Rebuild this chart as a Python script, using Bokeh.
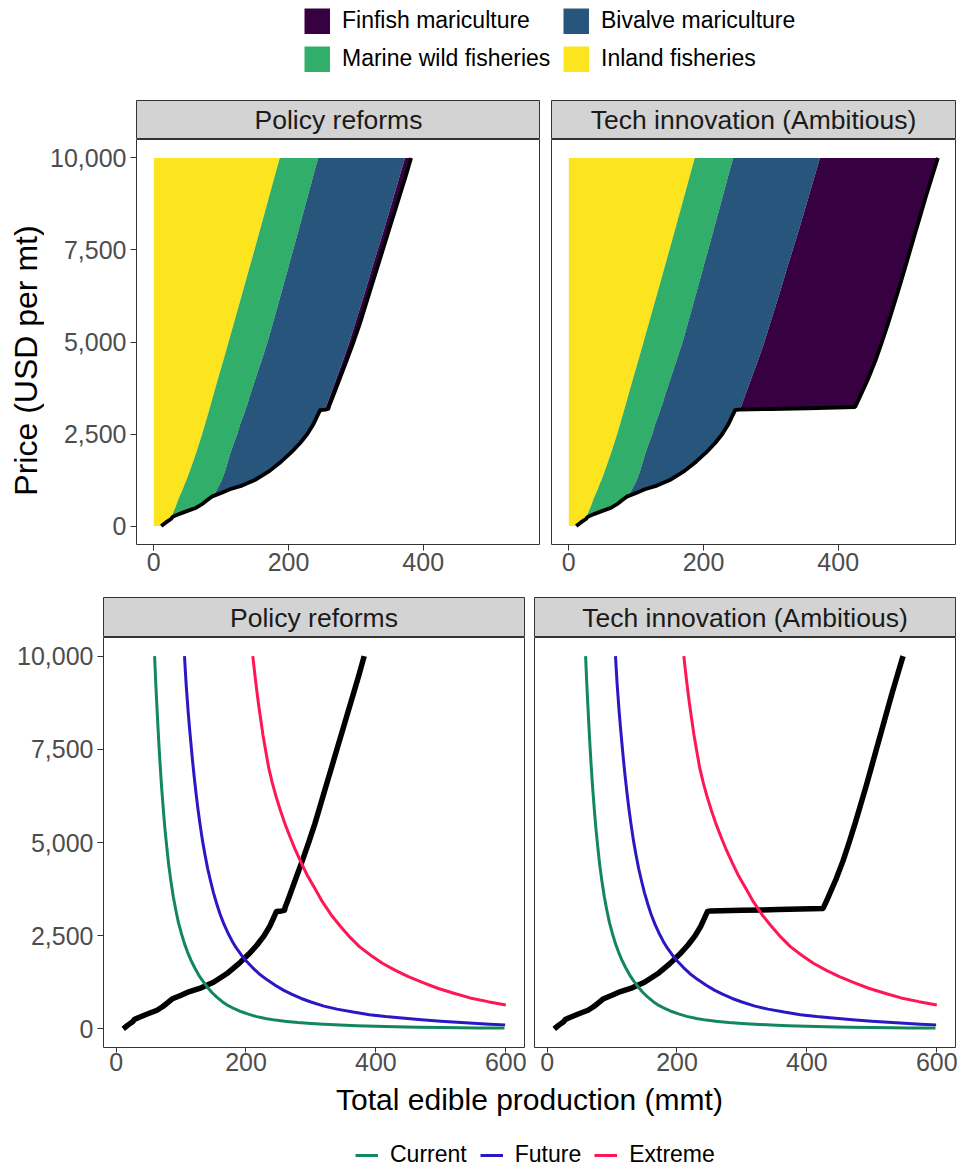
import numpy as np
from math import pi
from bokeh.plotting import figure
from bokeh.models import (ColumnDataSource, Legend, LegendItem, NumeralTickFormatter,
                          FixedTicker, Range1d)
from bokeh.layouts import row, column
from bokeh.embed import file_html
from bokeh.resources import INLINE
from bokeh.core.properties import value

FONT = "Liberation Sans"

# ---------------- data ----------------
price = [0, 100, 200, 250, 300, 400, 500, 600, 700, 800, 900, 1000, 1100, 1250, 1500, 1750,
         2000, 2250, 2500, 2750, 3000, 3150, 3165, 3180, 3200, 3230, 3250, 3500, 4000, 4500,
         5000, 5500, 6000, 6500, 7000, 7500, 8000, 8500, 9000, 9500, 10000]
inland = [11, 18, 26, 27, 27.5, 29.5, 32, 34, 36, 38, 40.5, 43, 45, 48.5, 53.5, 58.3,
          63, 67.5, 71.8, 75.8, 79.8, 82.2, 82.4, 82.6, 83, 83.4, 83.7, 87.5, 95.3, 103.2,
          111, 118.7, 126.4, 134.1, 141.8, 149.4, 157, 164.5, 172, 179.5, 187]
marine = [0, 0, 0, 1, 6.5, 18.5, 31, 38, 43, 48, 50.5, 51, 52, 52.5, 52.5, 51.7,
          51, 51.5, 52.2, 52.2, 53.2, 53.8, 53.6, 53.9, 54, 53.6, 54.3, 54.5, 55.7, 56.8,
          58, 58, 57.9, 57.8, 57.6, 57.5, 57.4, 57.3, 57.2, 57.1, 57]
bivalve = [0, 0, 0, 0, 0, 0, 0, 0, 0, 0, 9, 19, 34, 49, 66, 79,
           90, 98, 104, 108.5, 110, 111, 114, 116.5, 117, 118, 118, 119, 120, 121,
           121.5, 122.3, 123.2, 124.1, 124.6, 125.6, 126.6, 127.2, 127.8, 128.4, 129]
finfish_policy = [0] * 22 + [5, 6, 5.5, 5, 4, 4.5, 5, 5.5, 6, 7, 7, 7, 7.5, 7.5, 7.5, 8,
                             8.5, 9, 9]
finfish_tech = [0] * 22 + [2, 47, 101, 169, 169.5, 171, 173.5, 174.5, 174.5, 175, 175, 175,
                           175, 174.5, 174, 174, 174, 174.5, 175]

current_x = [59.3, 60.1, 61, 62, 63, 64.5, 66, 68, 70, 72.5, 75, 78, 81, 84.5, 88, 92, 96,
             100.5, 105, 110, 115, 121, 127, 133.5, 140, 147.5, 155, 163.5, 172, 182, 192,
             203.5, 215, 230, 245, 262.5, 280, 300, 320, 345, 370, 400, 430, 465, 500, 530,
             560, 598]
current_p = [10000, 9660, 9300, 8940, 8600, 8090, 7600, 7030, 6500, 5930, 5400, 4880, 4400,
             3950, 3550, 3180, 2850, 2560, 2300, 2060, 1850, 1640, 1450, 1280, 1130, 975, 850,
             730, 630, 540, 465, 395, 335, 280, 235, 200, 170, 145, 125, 103, 85, 69, 55, 44,
             35, 30, 25, 20]
future_x = [105.3, 106.5, 108, 111, 113, 115, 117.5, 120, 123, 126, 129.5, 133, 137, 141,
            145.5, 150, 155, 160, 166, 172, 178.5, 185, 192.5, 200, 210, 220, 232.5, 245,
            257.5, 270, 285, 300, 320, 340, 365, 390, 415, 440, 470, 500, 525, 550, 575, 599]
future_p = [10000, 9640, 9200, 8500, 8080, 7700, 7230, 6800, 6330, 5900, 5460, 5050, 4660,
            4300, 3960, 3650, 3350, 3080, 2810, 2580, 2360, 2170, 1990, 1830, 1645, 1480,
            1315, 1170, 1040, 930, 815, 720, 610, 530, 450, 380, 330, 290, 245, 205, 176, 150,
            127, 107]
extreme_x = [210.5, 212, 214, 216.5, 219, 222.5, 226, 230.5, 235, 240.5, 246, 253, 260, 268,
             276, 285.5, 295, 306.5, 318, 331.5, 345, 360, 375, 392.5, 410, 430, 450, 472.5,
             495, 520, 545, 572.5, 600]
extreme_p = [10000, 9760, 9450, 9090, 8750, 8320, 7900, 7440, 7000, 6600, 6250, 5860, 5500,
             5140, 4800, 4440, 4100, 3750, 3400, 3050, 2760, 2460, 2200, 1970, 1760, 1570,
             1400, 1240, 1090, 955, 830, 730, 642]

sector_labels = ["Inland fisheries", "Marine wild fisheries", "Bivalve mariculture",
                 "Finfish mariculture"]
sector_colors = ["#FCE51E", "#31AE6A", "#27557B", "#360041"]
demand_labels = ["Current", "Future", "Extreme"]
demand_colors = ["#12875A", "#2B18C4", "#FF1654"]
facet_titles = ["Policy reforms", "Tech innovation (Ambitious)"]
x_ticks_top = [0, 200, 400]
x_ticks_bottom = [0, 200, 400, 600]
y_ticks = [0, 2500, 5000, 7500, 10000]

# ---------------- helpers ----------------
def blank(width, height, **kw):
    p = figure(width=width, height=height, output_backend="svg", toolbar_location=None,
               x_range=Range1d(0, width), y_range=Range1d(0, height),
               x_axis_location=None, y_axis_location=None, min_border=0, **kw)
    p.xgrid.visible = False
    p.ygrid.visible = False
    p.outline_line_color = None
    return p


def strip(title, fw, fh, left, right):
    p = figure(frame_width=fw, frame_height=fh, output_backend="svg", toolbar_location=None,
               x_range=Range1d(0, 1), y_range=Range1d(0, 1),
               x_axis_location=None, y_axis_location=None,
               min_border_left=left, min_border_right=right, min_border_top=0,
               min_border_bottom=0)
    p.xgrid.visible = False
    p.ygrid.visible = False
    p.background_fill_color = "#D3D3D3"
    p.outline_line_color = "#333333"
    p.outline_line_width = 1
    p.text(x=[0.5], y=[0.5], text=[title], text_font=value(FONT), text_font_size="26.5px",
           text_color="#1A1A1A", text_align="center", text_baseline="middle")
    return p


def style(p, xticks, show_y, x_standoff, x_tick_out):
    p.xaxis.ticker = FixedTicker(ticks=xticks)
    if show_y:
        p.yaxis.ticker = FixedTicker(ticks=y_ticks)
        p.yaxis.formatter = NumeralTickFormatter(format="0,0")
    for ax in p.axis:
        ax.major_label_text_font = FONT
        ax.major_label_text_font_size = "25px"
        ax.major_label_text_color = "#4D4D4D"
        ax.major_tick_line_color = "#333333"
        ax.major_tick_line_width = 1
        ax.major_tick_out = 6
        ax.major_tick_in = 0
        ax.minor_tick_line_color = None
        ax.axis_line_color = None
        ax.major_label_standoff = 4
    p.xaxis.major_label_standoff = x_standoff
    p.xaxis.major_tick_out = x_tick_out
    p.xgrid.visible = False
    p.ygrid.visible = False
    p.outline_line_color = "#333333"
    p.outline_line_width = 1


def top_panel(fin, left, right, show_y):
    total = (np.array(inland) + np.array(marine) + np.array(bivalve) + np.array(fin)).tolist()
    src = ColumnDataSource(dict(price=price, inland=inland, marine=marine, bivalve=bivalve,
                                finfish=fin, total=total))
    p = figure(frame_width=404, frame_height=405, output_backend="svg", toolbar_location=None,
               x_range=Range1d(-25.7, 574.2), y_range=Range1d(-500, 10500),
               min_border_left=left, min_border_right=right, min_border_top=0,
               min_border_bottom=53, y_axis_location="left" if show_y else None)
    p.harea_stack(["inland", "marine", "bivalve", "finfish"], y="price", source=src,
                  fill_color=sector_colors)
    p.line("total", "price", source=src, line_color="black", line_width=3.8,
           line_join="round")
    style(p, x_ticks_top, show_y, 2, 6)
    return p


def bottom_panel(fin, left, right, show_y):
    total = (np.array(inland) + np.array(marine) + np.array(bivalve) + np.array(fin)).tolist()
    p = figure(frame_width=421, frame_height=410, output_backend="svg", toolbar_location=None,
               x_range=Range1d(-19.4, 628.8), y_range=Range1d(-500, 10500),
               min_border_left=left, min_border_right=right, min_border_top=0,
               min_border_bottom=34, y_axis_location="left" if show_y else None)
    p.line(total, price, line_color="black", line_width=5.5, line_join="round")
    for xs, ys, c in zip([current_x, future_x, extreme_x], [current_p, future_p, extreme_p],
                         demand_colors):
        p.line(xs, ys, line_color=c, line_width=3, line_join="round")
    style(p, x_ticks_bottom, show_y, 0, 5)
    return p


# ---------------- top legend ----------------
leg_top = blank(963, 100)
rs = {}
for lab, col in zip(sector_labels, sector_colors):
    rs[lab] = leg_top.line(x=[-200, -100], y=[-200, -200], line_color=col, line_width=26,
                           line_cap="butt")
order = ["Finfish mariculture", "Bivalve mariculture", "Marine wild fisheries", "Inland fisheries"]
legend1 = Legend(items=[LegendItem(label=l, renderers=[rs[l]]) for l in order],
                 orientation="horizontal", ncols=2, location=(304, 28),
                 glyph_width=26, glyph_height=26, label_standoff=12, spacing=11,
                 padding=0, margin=0, border_line_color=None, background_fill_alpha=0,
                 label_text_font=FONT, label_text_font_size="23px", label_text_color="black",
                 label_width=210, label_height=26)
leg_top.add_layout(legend1, "center")

# ---------------- y title ----------------
ytitle = blank(44, 497)
ytitle.text(x=[25], y=[237], text=["Price (USD per mt)"], angle=pi / 2,
            text_font=value(FONT), text_font_size="32px", text_color="black",
            text_align="center", text_baseline="middle")

# ---------------- panels ----------------
s_tl = strip(facet_titles[0], 404, 39, 92, 0)
p_tl = top_panel(finfish_policy, 92, 0, True)
s_tr = strip(facet_titles[1], 404, 39, 11, 8)
p_tr = top_panel(finfish_tech, 11, 8, False)

s_bl = strip(facet_titles[0], 421, 40, 103, 8)
p_bl = bottom_panel(finfish_policy, 103, 8, True)
s_br = strip(facet_titles[1], 421, 40, 2, 8)
p_br = bottom_panel(finfish_tech, 2, 8, False)

# ---------------- x title + bottom legend ----------------
foot = blank(963, 88)
foot.text(x=[529], y=[70], text=["Total edible production (mmt)"],
          text_font=value(FONT), text_font_size="30px", text_color="black",
          text_align="center", text_baseline="middle")
rb = [foot.line(x=[-200, -100], y=[-200, -200], line_color=c, line_width=3)
      for c in demand_colors]
legend2 = Legend(items=[LegendItem(label=l, renderers=[r]) for l, r in zip(demand_labels, rb)],
                 orientation="horizontal", location=(355, 1),
                 glyph_width=23, glyph_height=20, label_standoff=12, spacing=13,
                 padding=0, margin=0, border_line_color=None, background_fill_alpha=0,
                 label_text_font=FONT, label_text_font_size="23px", label_text_color="black")
foot.add_layout(legend2, "center")

layout = column(
    leg_top,
    row(ytitle, column(s_tl, p_tl), column(s_tr, p_tr)),
    row(column(s_bl, p_bl), column(s_br, p_br)),
    foot,
)

open("out.html", "w").write(file_html(layout, INLINE))
